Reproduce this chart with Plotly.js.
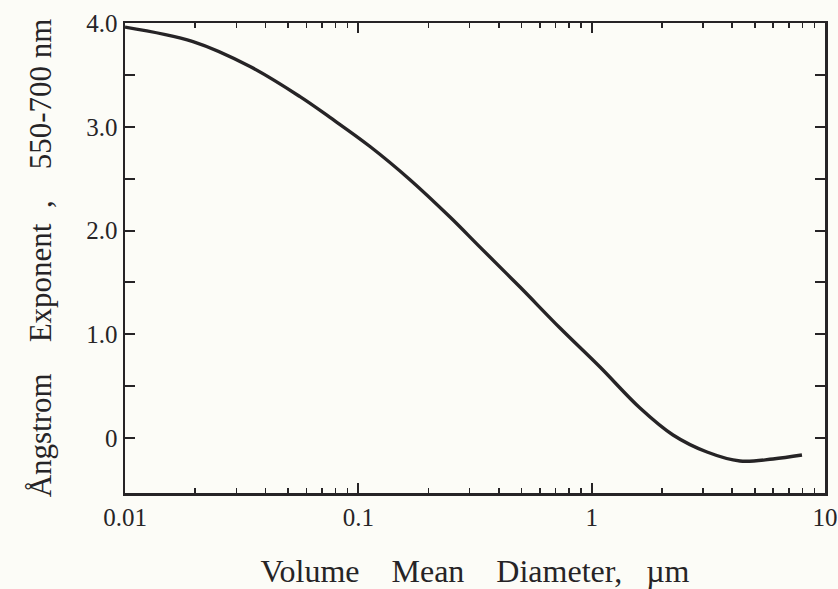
<!DOCTYPE html>
<html>
<head>
<meta charset="utf-8">
<script src="https://cdn.plot.ly/plotly-3.0.1.min.js"></script>
<style>
html,body{margin:0;padding:0;background:rgb(252,252,247);}
#chart{width:838px;height:589px;}
</style>
</head>
<body>
<div id="chart"></div>
<script>
// Volume mean diameter (µm) and Ångstrom exponent (550-700 nm)
const diameter = [0.01, 0.01956, 0.03435, 0.05623, 0.0756, 0.1122, 0.1665, 0.2471, 0.3322, 0.4931, 0.7317, 1.0857, 1.611, 2.232, 3.121, 4.322, 5.987, 7.967];
const angstrom = [3.96, 3.82, 3.58, 3.29, 3.09, 2.81, 2.49, 2.13, 1.84, 1.455, 1.06, 0.684, 0.289, 0.029, -0.135, -0.222, -0.202, -0.164];

const xMajorTicks = [0.01, 0.1, 1, 10];
const xMajorLabels = ['0.01', '0.1', '1', '10'];
const xMinorTicks = [0.02,0.03,0.04,0.05,0.06,0.07,0.08,0.09,0.2,0.3,0.4,0.5,0.6,0.7,0.8,0.9,2,3,4,5,6,7,8,9];
const yTicks = [0, 0.5, 1, 1.5, 2, 2.5, 3, 3.5, 4];
const yLabels = ['0', '', '1.0', '', '2.0', '', '3.0', '', '4.0'];

const nb = '\u00A0';
const xTitle = 'Volume' + nb.repeat(4) + 'Mean' + nb.repeat(4) + 'Diameter,' + nb.repeat(3) + 'µm';
const yTitle = 'Ångstrom' + nb.repeat(4) + 'Exponent' + nb.repeat(2) + ',' + nb.repeat(4) + '550-700' + nb + 'nm';

const ink = '#262426';
const trace = {
  x: diameter, y: angstrom, type: 'scatter', mode: 'lines',
  line: {color: ink, width: 3.4, shape: 'spline', smoothing: 1},
  hoverinfo: 'skip'
};

const layout = {
  width: 838, height: 589,
  margin: {l: 125, r: 13, t: 23, b: 96},
  paper_bgcolor: 'rgb(252,252,247)',
  plot_bgcolor: 'rgb(252,252,247)',
  showlegend: false,
  font: {family: '"Liberation Serif", "DejaVu Serif", serif', color: ink},
  xaxis: {
    type: 'log', range: [-2, 1],
    tickmode: 'array', tickvals: xMajorTicks, ticktext: xMajorLabels,
    ticks: 'inside', ticklen: 10, tickwidth: 2, tickcolor: ink,
    minor: {tickmode: 'array', tickvals: xMinorTicks, ticks: 'inside', ticklen: 5, tickwidth: 1.5, tickcolor: ink, showgrid: false},
    showline: true, linecolor: ink, linewidth: 2.5, mirror: 'allticks',
    showgrid: false, zeroline: false,
    tickfont: {size: 25, color: ink},
    title: {text: xTitle, font: {size: 32, color: ink}, standoff: 30},
    automargin: false
  },
  yaxis: {
    range: [-0.53, 4.0],
    tickmode: 'array', tickvals: yTicks, ticktext: yLabels,
    ticks: 'inside', ticklen: 10, tickwidth: 2, tickcolor: ink,
    showline: true, linecolor: ink, linewidth: 2.5, mirror: 'allticks',
    showgrid: false, zeroline: false,
    tickfont: {size: 25, color: ink},
    title: {text: yTitle, font: {size: 31, color: ink}, standoff: 26},
    automargin: false
  }
};

Plotly.newPlot('chart', [trace], layout, {displayModeBar: false, staticPlot: true});
</script>
</body>
</html>
